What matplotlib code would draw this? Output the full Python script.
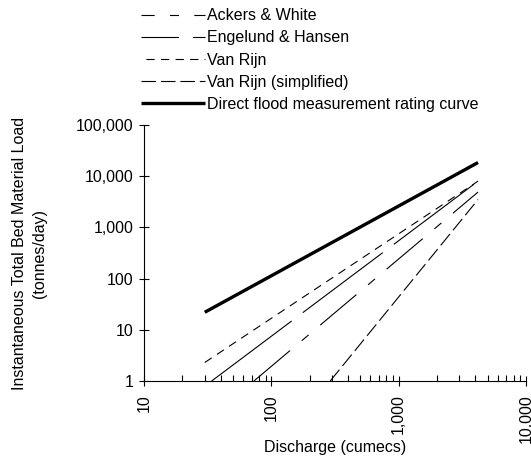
import matplotlib
matplotlib.use("Agg")
import matplotlib.pyplot as plt
from matplotlib.lines import Line2D
from matplotlib.ticker import FixedLocator, FixedFormatter, NullLocator

plt.rcParams['font.family'] = ['Liberation Sans', 'DejaVu Sans']
plt.rcParams['lines.scale_dashes'] = False

# discharge (cumecs) and load (tonnes/day) at the two ends of each curve
ackers_q = [73, 4200]
ackers_load = [1, 4900]
engelund_q = [34, 4200]
engelund_load = [1, 8000]
vanrijn_q = [30, 4200]
vanrijn_load = [2.3, 8000]
vanrijn_simp_q = [290, 4200]
vanrijn_simp_load = [1, 3500]
direct_q = [30, 4200]
direct_load = [22, 18500]

labels = ['Ackers & White', 'Engelund & Hansen', 'Van Rijn',
          'Van Rijn (simplified)', 'Direct flood measurement rating curve']

x_ticks = [10, 100, 1000, 10000]
x_labels = ['10', '100', '1,000', '10,000']
y_ticks = [1, 10, 100, 1000, 10000, 100000]
y_labels = ['1', '10', '100', '1,000', '10,000', '100,000']

FS = 11.5
lw = 0.8
dash_ackers = (34, 11, 6.5, 11)
dash_engelund = (72, 10)
dash_vanrijn = (6, 4.5)
dash_simp = (10.5, 3.5)

fig = plt.figure(figsize=(5.31, 4.59), dpi=100)
ax = fig.add_axes([144 / 531, 78 / 459, 382 / 531, 256 / 459])

ax.plot(ackers_q, ackers_load, color='black', lw=lw, dashes=dash_ackers)
ax.plot(engelund_q, engelund_load, color='black', lw=lw, dashes=dash_engelund)
ax.plot(vanrijn_q, vanrijn_load, color='black', lw=lw, dashes=dash_vanrijn)
ax.plot(vanrijn_simp_q, vanrijn_simp_load, color='black', lw=lw, dashes=dash_simp)
ax.plot(direct_q, direct_load, color='black', lw=2.4, solid_capstyle='butt')

ax.set_xscale('log')
ax.set_yscale('log')
ax.set_xlim(10, 10000)
ax.set_ylim(1, 100000)

ax.spines['top'].set_visible(False)
ax.spines['right'].set_visible(False)
ax.spines['left'].set_linewidth(0.8)
ax.spines['bottom'].set_linewidth(0.8)

ax.xaxis.set_major_locator(FixedLocator(x_ticks))
ax.xaxis.set_major_formatter(FixedFormatter(x_labels))
ax.yaxis.set_major_locator(FixedLocator(y_ticks))
ax.yaxis.set_major_formatter(FixedFormatter(y_labels))
ax.yaxis.set_minor_locator(NullLocator())

ax.tick_params(axis='x', which='major', direction='inout', length=7,
               width=0.8, labelsize=FS, labelrotation=90, pad=6)
ax.tick_params(axis='x', which='minor', direction='in', length=4, width=0.8)
ax.tick_params(axis='y', which='major', direction='inout', length=7,
               width=0.8, labelsize=FS, pad=4)

ax.set_xlabel('Discharge (cumecs)', fontsize=FS)
ax.xaxis.set_label_coords(0.5, -(440 - 381) / 256)
ax.set_ylabel('Instantaneous Total Bed Material Load\n(tonnes/day)',
              fontsize=FS, linespacing=1.45)
ax.yaxis.set_label_coords((47 - 144) / 382, 0.5)

# legend proxies, dash offsets chosen so the handles start like the original
handles = [
    Line2D([], [], color='black', lw=lw, linestyle=(24.5, dash_ackers)),
    Line2D([], [], color='black', lw=lw, linestyle=(45, dash_engelund)),
    Line2D([], [], color='black', lw=lw, linestyle=(7, dash_vanrijn)),
    Line2D([], [], color='black', lw=lw, linestyle=(0, dash_simp)),
    Line2D([], [], color='black', lw=2.4, solid_capstyle='butt'),
]

fig.legend(handles=handles, labels=labels, loc='upper left',
           bbox_to_anchor=(138 / 531, 1 - 5 / 459), frameon=False, fontsize=FS,
           handlelength=4.0, handletextpad=0.1, labelspacing=0.45,
           borderpad=0.2, borderaxespad=0)

fig.savefig('out.png', dpi=100)
